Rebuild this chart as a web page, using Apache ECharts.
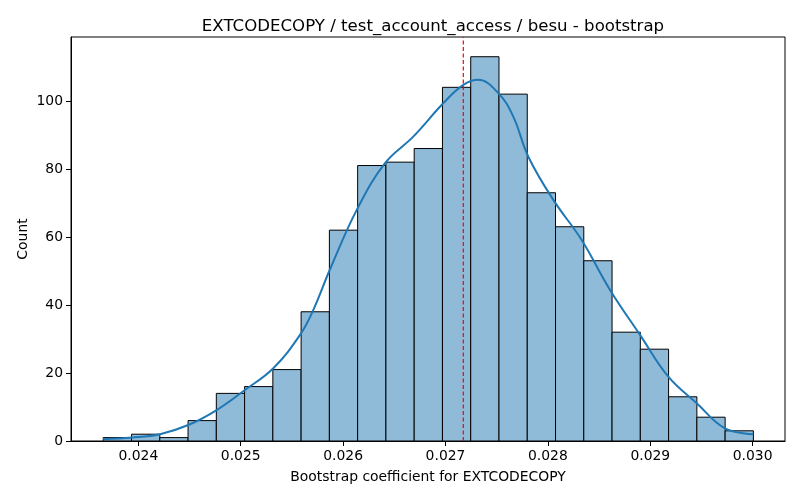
<!DOCTYPE html>
<html>
<head>
<meta charset="utf-8">
<script src="https://cdn.jsdelivr.net/npm/echarts@6/dist/echarts.min.js"></script>
<style>html,body{margin:0;padding:0;background:#fff}#c{width:800px;height:500px}</style>
</head>
<body>
<div id="c"></div>
<script>
// Histogram bins (23 equal bins)
const binStart = 0.023657;
const binWidth = 0.0002761;
const counts = [1, 2, 1, 6, 14, 16, 21, 38, 62, 81, 82, 86, 104, 113, 102, 73, 63, 53, 32, 27, 13, 7, 3];
// KDE curve (x, count)
const kdeX = [0.023657, 0.023935, 0.024211, 0.024487, 0.024765, 0.025041, 0.025318, 0.025579, 0.025708, 0.025872, 0.026132, 0.026409, 0.026685, 0.026978, 0.027174, 0.027320, 0.027516, 0.027662, 0.027809, 0.028053, 0.028330, 0.028607, 0.028900, 0.029176, 0.029454, 0.029730, 0.030007];
const kdeY = [0.5, 1.0, 2.0, 4.7, 9.1, 15.0, 21.4, 31.2, 38.5, 50.5, 67.9, 81.7, 89.5, 99.3, 104.7, 106.2, 102.3, 95.4, 83.6, 70.9, 59.1, 44.4, 31.2, 18.9, 11.1, 3.7, 2.0];
const refLine = 0.027174;
const xTicks = [0.024, 0.025, 0.026, 0.027, 0.028, 0.029, 0.030];
const yTicks = [0, 20, 40, 60, 80, 100];
const xMin = 0.023342, xMax = 0.030316, yMax = 118.8;

const bins = counts.map((c, i) => [binStart + i * binWidth, binStart + (i + 1) * binWidth, c]);
const kde = kdeX.map((x, i) => [x, kdeY[i]]);

const chart = echarts.init(document.getElementById('c'));
const font = 'DejaVu Sans';
chart.setOption({
  animation: false,
  backgroundColor: '#fff',
  textStyle: { fontFamily: font },
  title: {
    text: 'EXTCODECOPY / test_account_access / besu - bootstrap',
    left: 428, top: 13, textAlign: 'center',
    textStyle: { fontFamily: font, fontSize: 16.6, fontWeight: 'normal', color: '#000' }
  },
  grid: { left: 71, right: 15, top: 37, bottom: 59, show: true, borderColor: '#000', borderWidth: 1, backgroundColor: '#fff' },
  xAxis: {
    type: 'value', min: xMin, max: xMax,
    name: 'Bootstrap coefficient for EXTCODECOPY', nameLocation: 'middle', nameGap: 29,
    nameMoveOverlap: false,
    nameTextStyle: { fontFamily: font, fontSize: 13.9, color: '#000' },
    axisLine: { show: true, lineStyle: { color: '#000', width: 1 } },
    axisTick: { show: true, length: 5, lineStyle: { color: '#000' }, customValues: xTicks },
    axisLabel: { color: '#000', fontSize: 13.9, fontFamily: font, margin: 8, customValues: xTicks, formatter: v => v.toFixed(3) },
    splitLine: { show: false }
  },
  yAxis: {
    type: 'value', min: 0, max: yMax,
    name: 'Count', nameLocation: 'middle', nameGap: 41, nameRotate: 90,
    nameMoveOverlap: false,
    nameTextStyle: { fontFamily: font, fontSize: 13.9, color: '#000' },
    axisLine: { show: true, lineStyle: { color: '#000', width: 1 } },
    axisTick: { show: true, length: 5, lineStyle: { color: '#000' }, customValues: yTicks },
    axisLabel: { color: '#000', fontSize: 13.9, fontFamily: font, margin: 8, customValues: yTicks },
    splitLine: { show: false }
  },
  series: [
    {
      type: 'custom',
      data: bins,
      renderItem: function (params, api) {
        const p0 = api.coord([api.value(0), 0]);
        const p1 = api.coord([api.value(1), api.value(2)]);
        return {
          type: 'rect',
          shape: { x: p0[0], y: p1[1], width: p1[0] - p0[0], height: p0[1] - p1[1] },
          style: { fill: '#8fbbd9', stroke: '#000', lineWidth: 1 }
        };
      },
      encode: { x: [0, 1], y: 2 },
      z: 2
    },
    {
      type: 'line', data: kde, smooth: 0.4, showSymbol: false, symbol: 'none',
      lineStyle: { color: '#1f77b4', width: 2 }, z: 3
    },
    {
      type: 'line', data: [[refLine, 0], [refLine, yMax]], showSymbol: false, symbol: 'none',
      lineStyle: { color: '#ff0000', width: 1.2, type: [4, 2.5] }, z: 4
    }
  ]
});
</script>
</body>
</html>
